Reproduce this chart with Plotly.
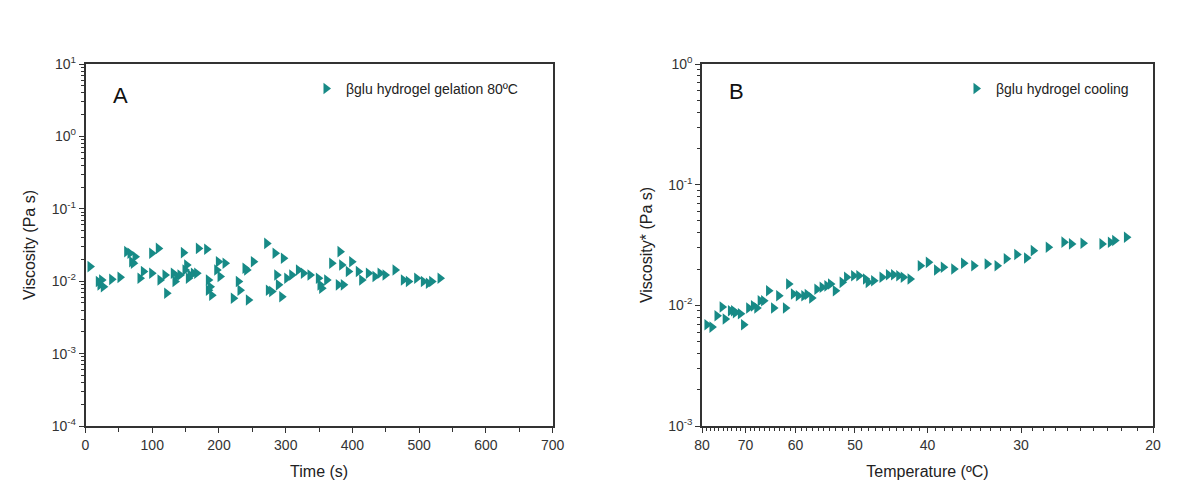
"""
Viscosity of the beta-glucan hydrogel: gelation at 80 ºC (A) and cooling (B)
"""

import plotly.graph_objects as go

# Panel A: gelation at 80 ºC, time (s) vs viscosity (Pa s)
gel_time = [6.7, 19.2, 21.7, 24.2, 26.7, 39.2, 51.7, 61.7, 66.7, 69.2, 71.7, 74.2,
            81.7, 86.7, 99.2, 99.2, 109.1, 111.6, 119.1, 121.6, 131.6, 134.1, 136.6,
            141.6, 146.6, 149.1, 151.6, 154.1, 156.6, 161.6, 166.6, 169.1, 181.6,
            184.1, 184.1, 186.6, 189.1, 196.6, 199.1, 201.6, 209.1, 221.5, 229.0,
            231.5, 239.0, 241.5, 244.0, 251.5, 271.5, 274.0, 279.0, 284.0, 286.5,
            289.0, 294.0, 296.5, 301.5, 309.0, 319.0, 326.4, 336.4, 348.9, 351.4,
            353.9, 361.4, 368.9, 378.8, 381.3, 383.8, 386.3, 393.8, 398.8, 408.8,
            413.8, 423.8, 433.8, 441.3, 448.8, 463.8, 476.3, 483.8, 496.2, 506.2,
            513.7, 518.7, 531.2]
gel_visc = [0.0159, 0.0099, 0.0089, 0.0104, 0.0084, 0.0106, 0.0113, 0.0256, 0.0243,
            0.0186, 0.0177, 0.0218, 0.0110, 0.0136, 0.0129, 0.0243, 0.0284, 0.0104,
            0.0122, 0.0068, 0.0129, 0.0099, 0.0116, 0.0122, 0.0248, 0.0143, 0.0167,
            0.0110, 0.0122, 0.0129, 0.0129, 0.0284, 0.0276, 0.0104, 0.0075, 0.0084,
            0.0064, 0.0143, 0.0186, 0.0116, 0.0177, 0.0058, 0.0099, 0.0075, 0.0151,
            0.0143, 0.0055, 0.0186, 0.0333, 0.0075, 0.0072, 0.0243, 0.0122, 0.0089,
            0.0061, 0.0207, 0.0110, 0.0122, 0.0143, 0.0129, 0.0122, 0.0110, 0.0089,
            0.0080, 0.0104, 0.0177, 0.0089, 0.0256, 0.0167, 0.0089, 0.0136, 0.0186,
            0.0136, 0.0104, 0.0129, 0.0116, 0.0129, 0.0122, 0.0143, 0.0104, 0.0099,
            0.0110, 0.0099, 0.0094, 0.0099, 0.0110]

# Panel B: cooling, temperature (ºC) vs viscosity* (Pa s)
cool_temp = [78.8, 77.6, 76.4, 75.2, 74.5, 73.3, 72.6, 72.2, 71.1, 70.4, 69.3, 68.3,
             67.6, 66.9, 66.2, 65.2, 64.2, 63.2, 61.9, 61.3, 60.4, 59.5, 58.5, 57.9,
             57.1, 56.2, 55.3, 54.5, 53.9, 53.1, 52.0, 51.3, 50.2, 49.4, 48.4, 48.0,
             47.2, 46.0, 45.1, 44.4, 43.7, 43.1, 42.2, 40.9, 39.9, 38.9, 38.1, 36.9,
             35.8, 34.7, 33.3, 32.3, 31.4, 30.4, 29.5, 28.9, 27.6, 26.3, 25.7, 24.8,
             23.4, 22.8, 22.5, 21.7]
cool_visc = [0.0069, 0.0066, 0.0082, 0.0097, 0.0077, 0.0090, 0.0090, 0.0087, 0.0085,
             0.0069, 0.0095, 0.0099, 0.0095, 0.0109, 0.0109, 0.0132, 0.0095, 0.0120,
             0.0095, 0.0150, 0.0124, 0.0120, 0.0120, 0.0123, 0.0115, 0.0136, 0.0141,
             0.0145, 0.0150, 0.0132, 0.0155, 0.0171, 0.0176, 0.0176, 0.0165, 0.0155,
             0.0160, 0.0171, 0.0179, 0.0179, 0.0176, 0.0171, 0.0165, 0.0213, 0.0227,
             0.0196, 0.0207, 0.0200, 0.0223, 0.0213, 0.0220, 0.0213, 0.0243, 0.0264,
             0.0247, 0.0284, 0.0303, 0.0334, 0.0323, 0.0327, 0.0323, 0.0333, 0.0344,
             0.0367]

# tick labels
time_ticks = [0, 100, 200, 300, 400, 500, 600, 700]
temp_ticks = [80, 70, 60, 50, 40, 30, 20]
visc_ticks_a = [1e-4, 1e-3, 1e-2, 1e-1, 1e0, 1e1]
visc_labels_a = ['10<sup>-4</sup>', '10<sup>-3</sup>', '10<sup>-2</sup>',
                 '10<sup>-1</sup>', '10<sup>0</sup>', '10<sup>1</sup>']
visc_ticks_b = [1e-3, 1e-2, 1e-1, 1e0]
visc_labels_b = ['10<sup>-3</sup>', '10<sup>-2</sup>', '10<sup>-1</sup>', '10<sup>0</sup>']

TEAL = '#178a86'
INK = '#333333'
FONT = 'Arial, Liberation Sans, sans-serif'
W, H = 1184, 504
OFF = 8  # page body margin the html adds around the plot div


def px_x(x):
    """pixel column on the page -> paper fraction"""
    return (x - OFF) / W


def px_y(y):
    """pixel row on the page -> paper fraction"""
    return 1 - (y - OFF) / H


def log_minor(decades):
    """minor ticks 2..9 inside each decade"""
    vals = []
    for d in decades[:-1]:
        vals += [d * k for k in range(2, 10)]
    return vals


fig = go.Figure()

fig.add_trace(go.Scatter(
    x=gel_time, y=gel_visc, mode='markers',
    name='\u03b2glu hydrogel gelation 80\u00baC',
    marker=dict(symbol='triangle-right', size=10, color=TEAL),
    xaxis='x', yaxis='y', legend='legend', showlegend=True
))

fig.add_trace(go.Scatter(
    x=cool_temp, y=cool_visc, mode='markers',
    name='\u03b2glu hydrogel cooling',
    marker=dict(symbol='triangle-right', size=10, color=TEAL),
    xaxis='x2', yaxis='y2', legend='legend2', showlegend=True
))

axis_common = dict(
    showline=True, linecolor=INK, linewidth=1.5, mirror=True,
    ticks='outside', ticklen=5, tickwidth=1.2, tickcolor=INK,
    showgrid=False, zeroline=False, automargin=False,
    tickfont=dict(family=FONT, size=14, color=INK),
    title_font=dict(family=FONT, size=16, color='#222222'),
)

y_top, y_bot = px_y(64), px_y(426)

fig.update_layout(
    width=W, height=H,
    margin=dict(l=0, r=0, t=0, b=0, autoexpand=False),
    paper_bgcolor='white', plot_bgcolor='white',
    font=dict(family=FONT, color=INK),
    showlegend=True,
    xaxis=dict(
        axis_common, domain=[px_x(85.5), px_x(552.7)], anchor='y',
        range=[0, 700], tickvals=time_ticks,
        minor=dict(tickvals=[50, 150, 250, 350, 450, 550, 650],
                   ticks='outside', ticklen=4, tickcolor=INK),
        title=dict(text='Time (s)', standoff=14),
    ),
    yaxis=dict(
        axis_common, domain=[y_bot, y_top], anchor='x',
        type='log', range=[-4, 1],
        tickvals=visc_ticks_a, ticktext=visc_labels_a,
        minor=dict(tickvals=log_minor(visc_ticks_a),
                   ticks='outside', ticklen=3, tickcolor=INK),
        title=dict(text='Viscosity (Pa s)', standoff=12),
    ),
    xaxis2=dict(
        axis_common, domain=[px_x(702), px_x(1153)], anchor='y2',
        type='log', range=[1.90309, 1.30103],
        tickvals=temp_ticks,
        minor=dict(tickvals=[t for t in range(21, 80) if t % 10],
                   ticks='outside', ticklen=3, tickcolor=INK),
        title=dict(text='Temperature (\u00baC)', standoff=14),
    ),
    yaxis2=dict(
        axis_common, domain=[y_bot, y_top], anchor='x2',
        type='log', range=[-3, 0],
        tickvals=visc_ticks_b, ticktext=visc_labels_b,
        minor=dict(tickvals=log_minor(visc_ticks_b),
                   ticks='outside', ticklen=3, tickcolor=INK),
        title=dict(text='Viscosity* (Pa s)', standoff=12),
    ),
    legend=dict(x=px_x(306), y=px_y(89), xanchor='left', yanchor='middle',
                bgcolor='rgba(0,0,0,0)',
                font=dict(family=FONT, size=14, color='#222222')),
    legend2=dict(x=px_x(956), y=px_y(89), xanchor='left', yanchor='middle',
                 bgcolor='rgba(0,0,0,0)',
                 font=dict(family=FONT, size=14, color='#222222')),
    annotations=[
        dict(text='A', x=px_x(120), y=px_y(95), xref='paper', yref='paper',
             xanchor='center', yanchor='middle', showarrow=False,
             font=dict(family=FONT, size=22, color='#111111')),
        dict(text='B', x=px_x(736), y=px_y(92), xref='paper', yref='paper',
             xanchor='center', yanchor='middle', showarrow=False,
             font=dict(family=FONT, size=22, color='#111111')),
    ],
)

fig.write_html('out.html')
